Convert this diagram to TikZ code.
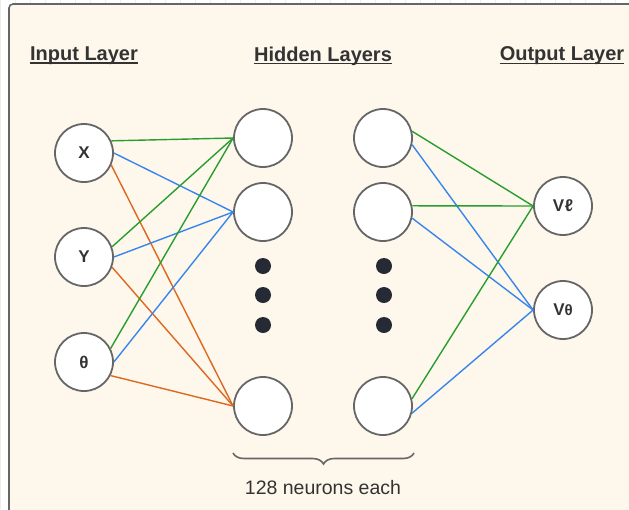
\documentclass[tikz,border=0pt]{standalone}
\usepackage{fontspec}
\setmainfont{Liberation Sans}
\usetikzlibrary{decorations.pathreplacing}

\definecolor{panelfill}{RGB}{254,247,236}
\definecolor{rim}{RGB}{102,102,102}
\definecolor{ink}{RGB}{51,51,51}
\definecolor{wgreen}{RGB}{40,158,48}
\definecolor{wblue}{RGB}{56,134,236}
\definecolor{worange}{RGB}{222,104,32}
\definecolor{dotc}{RGB}{37,42,52}

\begin{document}
\begin{tikzpicture}[x=1pt,y=-1pt,
  neuron/.style={circle,draw=rim,line width=1.8pt,fill=white,minimum size=58pt,
    inner sep=0pt,text=ink,font=\bfseries\fontsize{17}{17}\selectfont},
  layertitle/.style={inner sep=0pt,text=ink,font=\bfseries\fontsize{20}{20}\selectfont},
  wire/.style={line width=1.4pt},
  gw/.style={wire,draw=wgreen},
  bw/.style={wire,draw=wblue},
  ow/.style={wire,draw=worange},
  ellipsisdot/.style={circle,fill=dotc,minimum size=16pt,inner sep=0pt},
]
\useasboundingbox (0,0) rectangle (629,509);

% faint canvas grid
\draw[gray!14,line width=0.5pt] (0,0) grid[step=15] (629,509);

% cream panel
\draw[rim,fill=panelfill,line width=1.6pt,rounded corners=4pt]
  (9,4) rectangle (650,530);

% layer titles
\node[layertitle] (tin)  at (84,56)  {Input Layer};
\node[layertitle] (thid) at (323,56) {Hidden Layers};
\node[layertitle] (tout) at (562,56) {Output Layer};
\foreach \t in {tin,thid,tout}
  \draw[ink,line width=1.2pt] ([yshift=-2.2pt]\t.base west) -- ([yshift=-2.2pt]\t.base east);

% input layer
\node[neuron] (x)  at (84,153) {X};
\node[neuron] (y)  at (84,257) {Y};
\node[neuron] (th) at (84,362) {θ};

% hidden layers
\node[neuron] (a1) at (263,138) {};
\node[neuron] (a2) at (263,212) {};
\node[neuron] (a3) at (263,406) {};
\node[neuron] (b1) at (383,138) {};
\node[neuron] (b2) at (383,212) {};
\node[neuron] (b3) at (383,406) {};

\foreach \c/\xx in {a/263,b/384}{
  \node[ellipsisdot] (\c d1) at (\xx,266) {};
  \node[ellipsisdot] (\c d2) at (\xx,295) {};
  \node[ellipsisdot] (\c d3) at (\xx,325) {};
}

% output layer
\node[neuron] (vl) at (563,206) {V\kern0.5pt ℓ};
\node[neuron] (vt) at (563,310) {V{\fontsize{15}{15}\selectfont θ}};

% input -> first hidden layer
\draw[gw] (x.24)  -- (a1.west);
\draw[bw] (x.east) -- (a2.west);
\draw[ow] (x.-24) -- (a3.west);
\draw[gw] (y.20)  -- (a1.west);
\draw[bw] (y.east) -- (a2.west);
\draw[ow] (y.-20) -- (a3.west);
\draw[gw] (th.27) -- (a1.west);
\draw[bw] (th.east) -- (a2.west);
\draw[ow] (th.-27) -- (a3.west);

% last hidden layer -> output
\draw[gw] (b1.13)  -- (vl.west);
\draw[bw] (b1.-13) -- (vt.west);
\draw[gw] (b2.12)  -- (vl.west);
\draw[bw] (b2.-12) -- (vt.west);
\draw[gw] (b3.14)  -- (vl.west);
\draw[bw] (b3.-14) -- (vt.west);

% brace under hidden layers
\coordinate (bl) at (233,453);
\coordinate (br) at (414,453);
\draw[rim,line width=1.6pt,decorate,decoration={brace,mirror,amplitude=11pt}] (bl) -- (br);
\node[text=ink,font=\fontsize{19.5}{19.5}\selectfont] (cap) at (323,488) {128 neurons each};
\end{tikzpicture}
\end{document}
